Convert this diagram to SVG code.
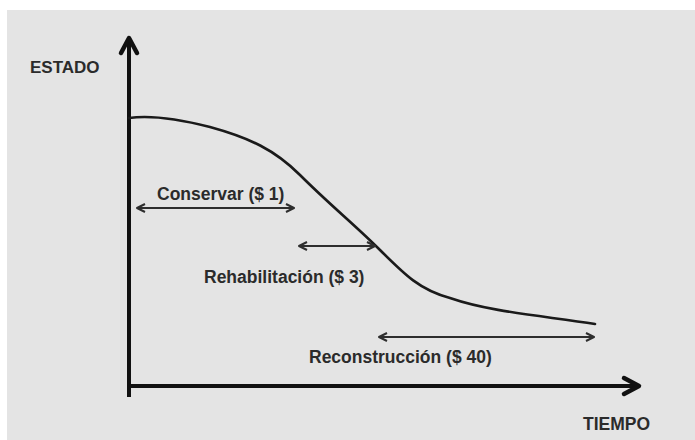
<svg xmlns="http://www.w3.org/2000/svg" width="695" height="440" viewBox="0 0 695 440">
  <defs>
    <style>
      .lbl { font-family: "Liberation Sans", Arial, sans-serif; font-weight: bold; fill: #2b2b2b; }
      .axis { stroke: #111; stroke-width: 4; fill: none; }
      .axhead { stroke: #111; stroke-width: 4.5; fill: none; stroke-linecap: round; stroke-linejoin: round; }
      .span { stroke: #2e2e2e; stroke-width: 2; fill: none; }
      .curve { stroke: #1a1a1a; stroke-width: 2.6; fill: none; stroke-linecap: round; }
    </style>
    <marker id="chev" viewBox="0 0 10 10" refX="9" refY="5" markerWidth="10" markerHeight="10" markerUnits="userSpaceOnUse" orient="auto-start-reverse">
      <path d="M1,1 L9,5 L1,9" fill="none" stroke="#2e2e2e" stroke-width="2" stroke-linejoin="round"/>
    </marker>
  </defs>
  <rect x="0" y="0" width="695" height="440" fill="#ffffff"/>
  <rect x="7" y="10" width="688" height="430" fill="#e4e4e4"/>

  <g id="axes">
    <line class="axis" x1="129" y1="38" x2="129" y2="397"/>
    <path class="axhead" d="M121,53 L129,38 L137,53"/>
    <line class="axis" x1="127" y1="386" x2="638" y2="386"/>
    <path class="axhead" d="M624,378 L639,386 L624,394"/>
  </g>

  <g id="curve">
    <path class="curve" d="M129,118 C150,115 175,118 210,127 C250,138 275,150 300,175 C330,205 355,225 380,250 C405,275 420,290 450,298 C490,312 545,316 595,324"/>
  </g>

  <g id="connectors">
    <line class="span" x1="137" y1="208" x2="294" y2="208" marker-start="url(#chev)" marker-end="url(#chev)"/>
    <line class="span" x1="299" y1="246" x2="375" y2="246" marker-start="url(#chev)" marker-end="url(#chev)"/>
    <line class="span" x1="379" y1="337" x2="594" y2="337" marker-start="url(#chev)" marker-end="url(#chev)"/>
  </g>

  <g id="estado"><text class="lbl" x="30" y="73" font-size="17">ESTADO</text></g>
  <g id="tiempo"><text class="lbl" x="583" y="430" font-size="17.5">TIEMPO</text></g>
  <g id="conservar"><text class="lbl" x="157" y="200" font-size="17.5">Conservar ($ 1)</text></g>
  <g id="rehabilitacion"><text class="lbl" x="204" y="283" font-size="17.5">Rehabilitación ($ 3)</text></g>
  <g id="reconstruccion"><text class="lbl" x="309" y="363" font-size="17.5">Reconstrucción ($ 40)</text></g>
</svg>
